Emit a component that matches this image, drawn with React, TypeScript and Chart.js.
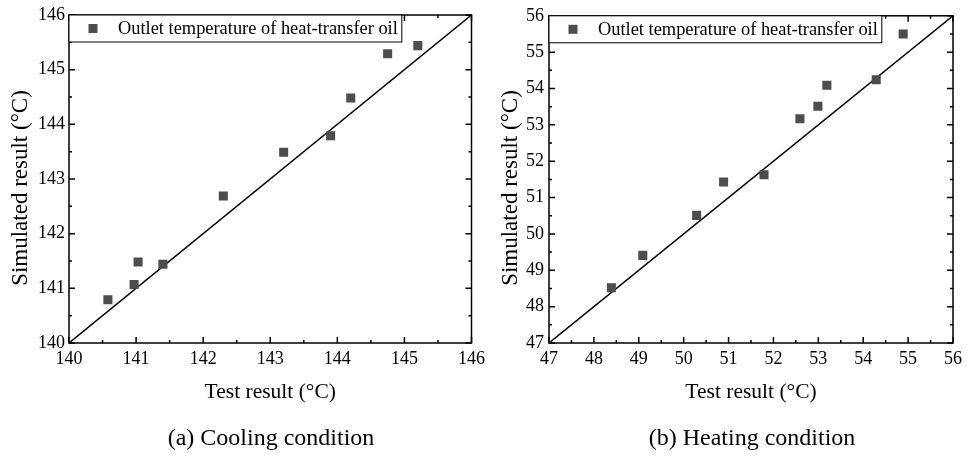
import React, { useEffect, useRef } from 'react';
import { Chart, registerables } from 'chart.js';

Chart.register(...registerables);

const FONT = '"Liberation Serif", "Times New Roman", Times, serif';

// ---- data ----
const seriesLabel = 'Outlet temperature of heat-transfer oil';
const xTitle = 'Test result (°C)';
const yTitle = 'Simulated result (°C)';

const coolTest = [140.58, 140.97, 141.03, 141.40, 142.30, 143.20, 143.90, 144.20, 144.75, 145.20];
const coolSim = [140.79, 141.07, 141.48, 141.44, 142.69, 143.49, 143.79, 144.48, 145.29, 145.44];
const coolRange = [140, 146];
const coolCaption = '(a) Cooling condition';

const heatTest = [48.39, 49.09, 50.29, 50.89, 51.79, 52.59, 52.99, 53.19, 54.29, 54.89];
const heatSim = [48.52, 49.41, 50.51, 51.43, 51.63, 53.17, 53.51, 54.09, 54.24, 55.50];
const heatRange = [47, 56];
const heatCaption = '(b) Heating condition';

const MARKER = '#4d4d4d';

const frameLegendPlugin = {
  id: 'frameLegend',
  afterDatasetsDraw(chart: any) {
    const { ctx, chartArea: a, scales } = chart;
    const xs = scales.x;
    const ys = scales.y;
    ctx.save();
    ctx.strokeStyle = '#000';
    ctx.lineWidth = 1.5;
    ctx.beginPath();
    for (let v = xs.min; v <= xs.max + 1e-9; v += 0.5) {
      const major = Math.abs(v - Math.round(v)) < 1e-6;
      const len = major ? 6 : 3;
      const px = xs.getPixelForValue(v);
      ctx.moveTo(px, a.bottom);
      ctx.lineTo(px, a.bottom - len);
      ctx.moveTo(px, a.top);
      ctx.lineTo(px, a.top + len);
    }
    for (let v = ys.min; v <= ys.max + 1e-9; v += 0.5) {
      const major = Math.abs(v - Math.round(v)) < 1e-6;
      const len = major ? 6 : 3;
      const py = ys.getPixelForValue(v);
      ctx.moveTo(a.left, py);
      ctx.lineTo(a.left + len, py);
      ctx.moveTo(a.right, py);
      ctx.lineTo(a.right - len, py);
    }
    ctx.stroke();
    ctx.strokeRect(a.left, a.top, a.right - a.left, a.bottom - a.top);

    // legend inside plot, top-left
    const ds = chart.data.datasets[0];
    ctx.font = `18.4px ${FONT}`;
    const tw = ctx.measureText(ds.label).width;
    const boxH = 27;
    const boxW = 49 + tw + 4;
    ctx.fillStyle = '#fff';
    ctx.fillRect(a.left, a.top, boxW, boxH);
    ctx.lineWidth = 1;
    ctx.strokeRect(a.left, a.top, boxW, boxH);
    ctx.fillStyle = ds.backgroundColor;
    ctx.fillRect(a.left + 24 - 4.5, a.top + boxH / 2 - 4.5, 9, 9);
    ctx.fillStyle = '#000';
    ctx.textBaseline = 'middle';
    ctx.textAlign = 'left';
    ctx.fillText(ds.label, a.left + 49, a.top + boxH / 2 + 1);

    // y-axis title
    ctx.save();
    ctx.font = `23px ${FONT}`;
    ctx.translate(21, 188);
    ctx.rotate(-Math.PI / 2);
    ctx.textAlign = 'center';
    ctx.textBaseline = 'middle';
    ctx.fillText(chart.options.scales.y.title.text, 0, 0);
    ctx.restore();
    ctx.restore();
  },
};

type PanelProps = {
  tests: number[];
  sims: number[];
  range: number[];
  width: number;
  height: number;
  yWidth: number;
  yPad: number;
  padRight: number;
};

function Panel({ tests, sims, range, width, height, yWidth, yPad, padRight }: PanelProps) {
  const ref = useRef<HTMLCanvasElement | null>(null);
  useEffect(() => {
    if (!ref.current) return;
    const points = tests.map((t, i) => ({ x: t, y: sims[i] }));
    const line = range.map((v) => ({ x: v, y: v }));
    const chart = new Chart(ref.current, {
      type: 'scatter',
      data: {
        datasets: [
          {
            label: seriesLabel,
            data: points,
            backgroundColor: MARKER,
            borderColor: MARKER,
            pointStyle: 'rect',
            pointRadius: 6.4,
            pointBorderWidth: 0,
            order: 0,
          },
          {
            type: 'line',
            label: 'y = x',
            data: line,
            borderColor: '#000',
            borderWidth: 1.5,
            pointRadius: 0,
            showLine: true,
            fill: false,
            order: 1,
          } as any,
        ],
      },
      options: {
        animation: false,
        responsive: false,
        layout: { padding: { left: 0, top: 15, right: padRight, bottom: height - 343 - 62 } },
        plugins: {
          legend: { display: false },
          tooltip: { enabled: false },
        },
        scales: {
          x: {
            type: 'linear',
            min: range[0],
            max: range[1],
            grid: { display: false, drawTicks: false },
            border: { display: false },
            ticks: { stepSize: 1, autoSkip: false, color: '#000', font: { family: FONT, size: 18 }, padding: 5 },
            title: { display: true, text: xTitle, color: '#000', font: { family: FONT, size: 21.5 }, padding: { top: 0, bottom: 0 } },
            afterFit: (s: any) => {
              s.height = 62;
            },
          },
          y: {
            type: 'linear',
            min: range[0],
            max: range[1],
            grid: { display: false, drawTicks: false },
            border: { display: false },
            ticks: { stepSize: 1, autoSkip: false, color: '#000', font: { family: FONT, size: 18 }, padding: yPad },
            title: { display: false, text: yTitle },
            afterFit: (s: any) => {
              s.width = yWidth;
            },
          },
        },
      },
      plugins: [frameLegendPlugin],
    } as any);
    return () => chart.destroy();
  }, []);
  return <canvas ref={ref} width={width} height={height} style={{ width, height, display: 'block' }} />;
}

const captionStyle = (center: number): React.CSSProperties => ({
  position: 'absolute',
  left: center - 150,
  width: 300,
  top: 422,
  height: 30,
  lineHeight: '30px',
  textAlign: 'center',
  fontFamily: FONT,
  fontSize: 24,
  color: '#000',
});

export default function App() {
  return (
    <div style={{ position: 'absolute', left: 0, top: 0, width: 967, height: 459, background: '#fff', overflow: 'hidden' }}>
      <div style={{ position: 'absolute', left: 0, top: 0 }}>
        <Panel tests={coolTest} sims={coolSim} range={coolRange} width={490} height={459} yWidth={69} yPad={4} padRight={16} />
      </div>
      <div style={{ position: 'absolute', left: 490, top: 0 }}>
        <Panel tests={heatTest} sims={heatSim} range={heatRange} width={477} height={459} yWidth={59} yPad={5} padRight={11} />
      </div>
      <div style={captionStyle(271)}>{coolCaption}</div>
      <div style={captionStyle(752)}>{heatCaption}</div>
    </div>
  );
}
